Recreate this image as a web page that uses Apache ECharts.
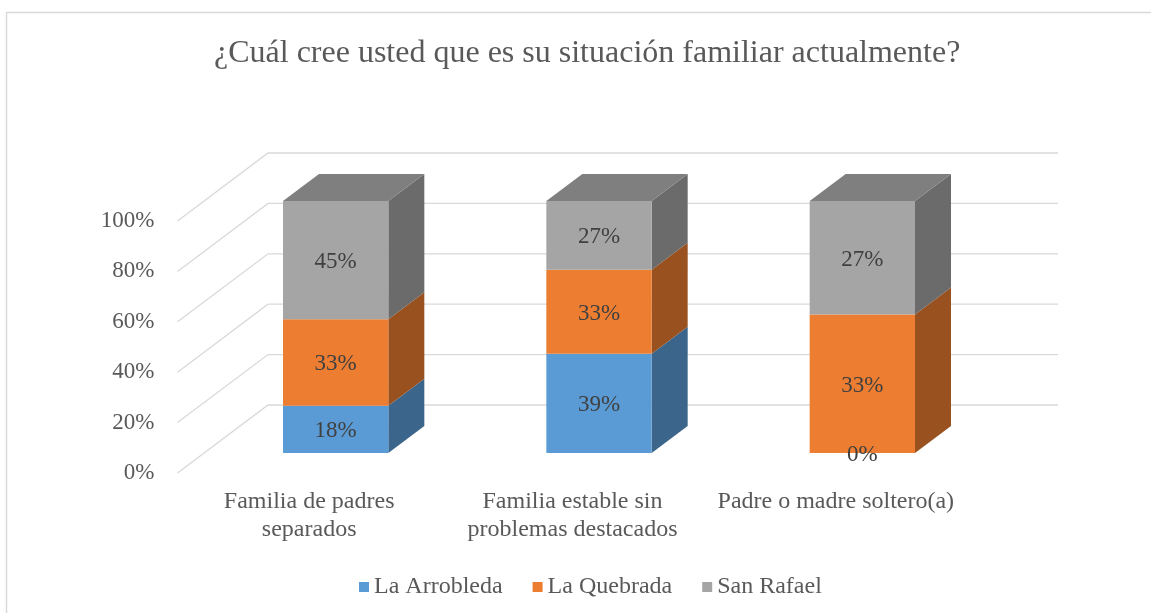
<!DOCTYPE html>
<html>
<head>
<meta charset="utf-8">
<script src="https://cdn.jsdelivr.net/npm/echarts@6/dist/echarts.min.js"></script>
<style>html,body{margin:0;padding:0;background:#fff;}#c{width:1151px;height:613px;}</style>
</head>
<body>
<div id="c"></div>
<script>
// ---- data ----
var titleText = '¿Cuál cree usted que es su situación familiar actualmente?';
var categories = ['Familia de padres\nseparados', 'Familia estable sin\nproblemas destacados', 'Padre o madre soltero(a)'];
var seriesNames = ['La Arrobleda', 'La Quebrada', 'San Rafael'];
var laArrobleda = [18, 39, 0];
var laQuebrada = [33, 33, 33];
var sanRafael = [45, 27, 27];
var yTicks = [0, 20, 40, 60, 80, 100];

var colors = ['#5B9BD5', '#ED7D31', '#A5A5A5'];
var sideColors = ['#3B658A', '#9A5120', '#6B6B6B'];
var topColors = ['#477BAA', '#BC6327', '#7F7F7F'];
var FONT = '"Liberation Serif", "Times New Roman", serif';
var FS = 23;

var raw = [laArrobleda, laQuebrada, sanRafael];
// 100% stacked: normalise each column
var totals = categories.map(function (c, i) { return raw.reduce(function (s, a) { return s + a[i]; }, 0); });

// depth geometry
var DX = 36, DY = -27;           // bar depth
var WALL_DX = 64, WALL_DY = -48; // bar front plane -> back wall
var FLOOR_DX = -26.5, FLOOR_DY = 20; // bar front plane -> front floor

function buildSeriesData(si) {
  var out = [];
  for (var i = 0; i < categories.length; i++) {
    var start = 0;
    for (var k = 0; k < si; k++) start += raw[k][i] / totals[i] * 100;
    var end = start + raw[si][i] / totals[i] * 100;
    out.push([i, start, end, raw[si][i]]);
  }
  return out;
}

var chart = echarts.init(document.getElementById('c'), null, { renderer: 'canvas' });

function barRender(si) {
  return function (params, api) {
    var ci = api.value(0);
    var p0 = api.coord([ci, api.value(1)]);
    var p1 = api.coord([ci, api.value(2)]);
    var w = api.size([1, 0])[0] * 0.4;
    var x0 = p0[0] - w / 2, x1 = p0[0] + w / 2;
    var yb = p0[1], yt = p1[1];
    var children = [];
    if (yb - yt > 0.01) {
      children.push({ type: 'polygon', shape: { points: [[x1, yb], [x1 + DX, yb + DY], [x1 + DX, yt + DY], [x1, yt]] }, style: { fill: sideColors[si] } });
      children.push({ type: 'rect', shape: { x: x0, y: yt, width: w, height: yb - yt }, style: { fill: colors[si] } });
      if (api.value(2) > 99.9) {
        children.push({ type: 'polygon', shape: { points: [[x0, yt], [x0 + DX, yt + DY], [x1 + DX, yt + DY], [x1, yt]] }, style: { fill: topColors[si] } });
      }
    }
    return { type: 'group', children: children };
  };
}

function labelRender(params, api) {
  var ci = api.value(0);
  var p0 = api.coord([ci, api.value(1)]);
  var p1 = api.coord([ci, api.value(2)]);
  return { type: 'text', x: p0[0], y: (p0[1] + p1[1]) / 2 + 2,
    style: { text: api.value(3) + '%', fill: '#404040', font: FS + 'px ' + FONT, align: 'center', verticalAlign: 'middle' } };
}

function gridRender(params, api) {
  var cs = params.coordSys;
  var v = api.value(0);
  var y = api.coord([0, v])[1];
  var left = cs.x, right = cs.x + cs.width;
  return {
    type: 'polyline',
    shape: { points: [[left + FLOOR_DX, y + FLOOR_DY], [left + WALL_DX, y + WALL_DY], [right + WALL_DX, y + WALL_DY]] },
    style: { stroke: '#D9D9D9', lineWidth: 1.3, fill: null }
  };
}

var series = [{
  type: 'custom', name: 'grid', xAxisIndex: 0, yAxisIndex: 0, silent: true, z: 1,
  data: yTicks.map(function (t) { return [t]; }),
  renderItem: gridRender, encode: { y: 0 }
}];
var labelData = [];
seriesNames.forEach(function (n, si) {
  var d = buildSeriesData(si);
  labelData = labelData.concat(d);
  series.push({
    type: 'custom', name: n, xAxisIndex: 0, yAxisIndex: 0, z: 2 + si,
    itemStyle: { color: colors[si] },
    data: d,
    encode: { x: 0, y: [1, 2] },
    renderItem: barRender(si)
  });
});
series.push({
  type: 'custom', name: 'labels', xAxisIndex: 0, yAxisIndex: 0, z: 10, silent: true,
  data: labelData, encode: { x: 0, y: [1, 2] }, renderItem: labelRender
});

chart.setOption({
  animation: false,
  backgroundColor: '#fff',
  title: {
    text: titleText, left: 209, top: 33,
    textStyle: { fontFamily: FONT, fontSize: 32, fontWeight: 'normal', color: '#595959' }
  },
  legend: {
    data: seriesNames, left: 354, top: 570, icon: 'rect', itemWidth: 10, itemHeight: 10, itemGap: 30,
    textStyle: { fontFamily: FONT, fontSize: 24, color: '#595959' }
  },
  grid: [
    { left: 204, width: 790, top: 201, height: 252 },
    { left: 177.5, width: 790, top: 221, height: 252 }
  ],
  xAxis: [
    { type: 'category', gridIndex: 0, data: categories, show: false },
    { type: 'category', gridIndex: 1, data: categories,
      axisLine: { show: false }, axisTick: { show: false }, splitLine: { show: false },
      axisLabel: { margin: 15, interval: 0, lineHeight: 28, fontFamily: FONT, fontSize: 24, color: '#595959' } }
  ],
  yAxis: [
    { type: 'value', gridIndex: 0, min: 0, max: 100, interval: 20, show: false },
    { type: 'value', gridIndex: 1, min: 0, max: 100, interval: 20,
      axisLine: { show: false }, axisTick: { show: false }, splitLine: { show: false },
      axisLabel: { margin: 23, formatter: '{value}%', fontFamily: FONT, fontSize: FS, color: '#595959' } }
  ],
  graphic: [{
    type: 'rect', shape: { x: 6.5, y: 12.5, width: 1170, height: 640 },
    style: { fill: null, stroke: '#D9D9D9', lineWidth: 1.5 }, silent: true, z: -10
  }],
  series: series
});
</script>
</body>
</html>
